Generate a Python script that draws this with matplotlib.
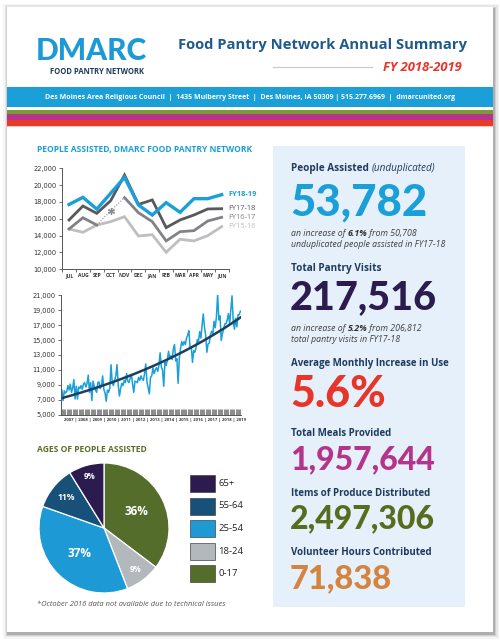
import numpy as np
import matplotlib
matplotlib.use('Agg')
import matplotlib.pyplot as plt
from matplotlib.patches import Rectangle

# ---------------- data ----------------
months = ['JUL', 'AUG', 'SEP', 'OCT', 'NOV', 'DEC', 'JAN', 'FEB', 'MAR', 'APR', 'MAY', 'JUN']
fy_labels = ['FY18-19', 'FY17-18', 'FY16-17', 'FY15-16']
fy1819 = [17700, 18550, 17150, 19030, 20930, 17640, 16450, 17920, 16770, 18390, 18390, 18870]
fy1718 = [15860, 17520, 16650, 18150, 21200, 17700, 18240, 14950, 15860, 16450, 17170, 17200]
fy1617 = [14790, 16130, 15260, np.nan, 18510, 16730, 15660, 13370, 14470, 14590, 15740, 16180]
fy1617_oct_estimate = 16970
fy1516 = [14790, 14400, 15260, 15660, 16250, 13960, 14110, 12020, 13570, 13370, 14000, 15070]

# monthly people assisted, calendar months Jan..Dec
m2007 = [8300, 6900, 8200, 7900, 8100, 8900, 8300, 9100, 8000, 8600, 9700, 7100]
m2008 = [8800, 7100, 8700, 8500, 8900, 8400, 9100, 9300, 8700, 9200, 10300, 8000]
m2009 = [9300, 6900, 9500, 8800, 8300, 8000, 9300, 9400, 8500, 8900, 10200, 8400]
m2010 = [7900, 6800, 8300, 8000, 8600, 11700, 9300, 8900, 9600, 10200, 11700, 9000]
m2011 = [7500, 8500, 9200, 8900, 9600, 9300, 10500, 9500, 9300, 9900, 10400, 9100]
m2012 = [8000, 9500, 9400, 9300, 10000, 9600, 10200, 9800, 9600, 10500, 11800, 9400]
m2013 = [8600, 7800, 10000, 10200, 11300, 10500, 11000, 11300, 10800, 11600, 13300, 11400]
m2014 = [11000, 8800, 12000, 11600, 12300, 13500, 12600, 12900, 12400, 13800, 14400, 12200]
m2015_jan_jun = [12500, 9200, 12500, 13800, 14800, 14300]
years = ['2007', '2008', '2009', '2010', '2011', '2012', '2013', '2014',
         '2015', '2016', '2017', '2018', '2019']

age_groups = ['0-17', '18-24', '25-54', '55-64', '65+']
age_pcts = [36, 9, 37, 11, 9]
age_colors = ['#556d2a', '#b3b8bd', '#1d9ad6', '#17517a', '#2b1b4f']

# ---------------- figure ----------------
W, H = 500, 640
fig = plt.figure(figsize=(W / 100, H / 100), dpi=100)
fig.patch.set_facecolor('white')
bg = fig.add_axes([0, 0, 1, 1])
bg.set_xlim(0, W)
bg.set_ylim(H, 0)
bg.axis('off')


def rect_axes(x0, y0, x1, y1):
    return fig.add_axes([x0 / W, 1 - y1 / H, (x1 - x0) / W, (y1 - y0) / H])


# page + shadow
for d, a in [(5, 0.04), (3.5, 0.06), (2, 0.10), (1, 0.15)]:
    bg.add_patch(Rectangle((7 - d + 1, 7 - d + 1.5), 486 + 2 * d, 625 + 2 * d,
                           fc='black', alpha=a, lw=0))
bg.add_patch(Rectangle((7, 7), 486, 625, fc='white', lw=0))

# logo
logo_blue = '#1d9ad6'
navy = '#1f3b5e'
bg.text(91, 60.5, 'DMARC', fontsize=21.5, family='Lato', weight='black',
        color=logo_blue, ha='center', va='baseline')
bg.text(97, 74.5, 'FOOD PANTRY NETWORK', fontsize=5.5, family='Open Sans',
        weight='bold', color=navy, ha='center', va='baseline')

# title
bg.text(178, 49.5, 'Food Pantry Network Annual Summary', fontsize=10.6,
        family='Open Sans', weight='bold', color='#1e5a8a', ha='left', va='baseline')
bg.text(462, 71, 'FY 2018-2019', fontsize=9.4, family='Open Sans', weight='bold',
        style='italic', color='#e8352a', ha='right', va='baseline')
bg.plot([273, 372], [66.5, 66.5], color='#c8c8c8', lw=0.8)

# blue band + stripes
bg.add_patch(Rectangle((7, 87.3), 486, 19.4, fc='#1a9fd9', lw=0))
bg.text(250, 97.5, 'Des Moines Area Religious Council  |  1435 Mulberry Street  |  '
        'Des Moines, IA 50309 | 515.277.6969  |  dmarcunited.org',
        fontsize=5.0, family='Open Sans', weight='bold', color='white',
        ha='center', va='center')
bg.add_patch(Rectangle((7, 109.5), 486, 4.7, fc='#7a9a33', lw=0))
bg.add_patch(Rectangle((7, 114.2), 486, 5.8, fc='#b8338d', lw=0))
bg.add_patch(Rectangle((7, 120.0), 486, 5.8, fc='#e8392b', lw=0))
bg.add_patch(Rectangle((7, 125.8), 486, 1.2, fc='#f3c9c4', lw=0))

# ---------------- left headings ----------------
bg.text(36.7, 152.3, 'PEOPLE ASSISTED, DMARC FOOD PANTRY NETWORK', fontsize=6.1,
        family='Open Sans', weight='bold', color='#1a9fd9', ha='left', va='baseline')
bg.text(36.7, 452.3, 'AGES OF PEOPLE ASSISTED', fontsize=6.1,
        family='Open Sans', weight='bold', color='#5a6e2a', ha='left', va='baseline')
bg.text(37.3, 606.5, '*October 2016 data not available due to technical issues',
        fontsize=5.4, family='Open Sans', style='italic', color='#555555',
        ha='left', va='baseline')

tick_color = '#333333'

# ---------------- chart 1 ----------------
ax1 = rect_axes(62.1, 168.3, 228.6, 269.3)
x12 = np.arange(12)
ax1.plot(x12, fy1516, color='#bcbec0', lw=2.0, solid_joinstyle='miter')
ax1.plot(x12, fy1617, color='#808285', lw=2.0, solid_joinstyle='miter')
ax1.plot([2, 3, 4], [fy1617[2], fy1617_oct_estimate, fy1617[4]], color='#8a8a8a',
         lw=0.8, ls=(0, (1, 1.5)))
ax1.plot([3], [fy1617_oct_estimate], marker=(6, 2, 0), color='#8a8a8a', ms=5, mew=0.9)
ax1.plot(x12, fy1718, color='#58595b', lw=2.0, solid_joinstyle='miter')
ax1.plot(x12, fy1819, color='#1a9fd9', lw=2.4, solid_joinstyle='miter')
ax1.set_xlim(-0.5, 11.5)
ax1.set_ylim(10000, 22000)
ax1.set_yticks(np.arange(10000, 22001, 2000))
ax1.set_yticklabels([f'{v:,}' for v in range(10000, 22001, 2000)])
ax1.set_xticks(x12)
ax1.set_xticklabels(months)
ax1.set_xticks(np.arange(-0.5, 12, 1), minor=True)
ax1.tick_params(axis='x', which='major', length=0, labelsize=3.6, pad=2.5,
                labelcolor=tick_color)
ax1.tick_params(axis='x', which='minor', length=2.5, width=0.6, color='#555')
ax1.tick_params(axis='y', length=2.5, width=0.6, color='#555', labelsize=4.8,
                pad=1.5, labelcolor=tick_color)
for lbl in ax1.get_xticklabels():
    lbl.set_fontweight('bold')
    lbl.set_family('Open Sans')
for s in ['top', 'right']:
    ax1.spines[s].set_visible(False)
for s in ['left', 'bottom']:
    ax1.spines[s].set_color('#555')
    ax1.spines[s].set_linewidth(0.7)
ax1.patch.set_alpha(0)
end_vals = [fy1819[-1], fy1718[-1], fy1617[-1], fy1516[-1]]
lab_cols = ['#1a9fd9', '#58595b', '#808285', '#bcbec0']
for lab, v, c, w in zip(fy_labels, end_vals, lab_cols, ['bold', 'normal', 'normal', 'normal']):
    ax1.text(11.45, v, lab, color=c, fontsize=5.4, fontweight=w, family='Open Sans',
             ha='left', va='center', clip_on=False)

# ---------------- chart 2 ----------------
monthly = (m2007 + m2008 + m2009 + m2010 + m2011 + m2012 + m2013 + m2014 + m2015_jan_jun
           + fy1516 + fy1617[:3] + [fy1617_oct_estimate] + fy1617[4:] + fy1718 + fy1819)
monthly = np.array(monthly, dtype=float)
xm = np.arange(len(monthly))
coef = np.polyfit(xm, np.log(monthly), 1)       # exponential trend line
trend = np.exp(np.polyval(coef, xm))

ax2 = rect_axes(61.3, 295.3, 241, 414.7)
ax2.plot(xm, monthly, color='#1a9fd9', lw=1.1)
ax2.plot(xm, trend, color='#1d3f5e', lw=1.8)
ax2.set_xlim(-0.5, len(monthly) - 0.5)
ax2.set_ylim(5000, 21000)
ax2.set_yticks(np.arange(5000, 21001, 2000))
ax2.set_yticklabels([f'{v:,}' for v in range(5000, 21001, 2000)])
ax2.tick_params(axis='y', length=2.5, width=0.6, color='#555', labelsize=4.8,
                pad=1.5, labelcolor=tick_color)
ax2.set_xticks(xm)
ax2.set_xticklabels([])
ax2.tick_params(axis='x', direction='in', length=4.5, width=0.7, color='#8a8a8a')
for s in ['top', 'right']:
    ax2.spines[s].set_visible(False)
for s in ['left', 'bottom']:
    ax2.spines[s].set_color('#555')
    ax2.spines[s].set_linewidth(0.7)
ax2.patch.set_alpha(0)
bg.text(155, 419.5, ' | '.join(years), fontsize=3.1, family='Open Sans', weight='bold',
        color=tick_color, ha='center', va='center')

# ---------------- pie ----------------
cx, cy, r = 104, 528, 65
axp = rect_axes(cx - 66, cy - 66, cx + 66, cy + 66)
wedges, _ = axp.pie(age_pcts, colors=age_colors, startangle=90, counterclock=False,
                    radius=1, wedgeprops=dict(edgecolor='white', linewidth=0.9))
axp.set_xlim(-66 / 65, 66 / 65)
axp.set_ylim(-66 / 65, 66 / 65)
axp.set_aspect('equal')
axp.axis('off')
label_r = [0.56, 0.8, 0.55, 0.74, 0.82]
label_fs = [8.5, 5.8, 8.5, 6.2, 5.8]
for w, p, lr, fs in zip(wedges, age_pcts, label_r, label_fs):
    th = np.deg2rad((w.theta1 + w.theta2) / 2)
    axp.text(lr * np.cos(th), lr * np.sin(th), f'{p}%', color='white', fontsize=fs,
             fontweight='bold', family='Open Sans', ha='center', va='center')

# legend
leg_rows = [483, 506, 528.5, 551, 573]
for (grp, col), yy in zip(list(zip(age_groups, age_colors))[::-1], leg_rows):
    bg.add_patch(Rectangle((189.5, yy - 8.5), 25.5, 17, fc=col, ec='#444444', lw=0.5))
    bg.text(218.5, yy, grp, fontsize=6.8, family='Open Sans', color='#222222',
            ha='left', va='center')

# ---------------- right panel ----------------
bg.add_patch(Rectangle((273, 146), 192, 461, fc='#e5f0fa', lw=0))
renderer = fig.canvas.get_renderer()


def rich(x, y, segments, fs):
    for txt, kw in segments:
        t = bg.text(x, y, txt, fontsize=fs, ha='left', va='baseline', **kw)
        bb = t.get_window_extent(renderer=renderer)
        x = bb.x1


head_kw = dict(family='Open Sans', weight='bold', color=navy)
sub_kw = dict(family='Open Sans', style='italic', color='#404040')
subb_kw = dict(family='Open Sans', style='italic', weight='bold', color='#303030')

rich(291, 170.7, [('People Assisted ', head_kw),
                  ('(unduplicated)', dict(family='Open Sans', style='italic', color=navy))], 7.2)
bg.text(290, 215.5, '53,782', fontsize=31.5, family='Lato', weight='black',
        color='#1a9fd9', ha='left', va='baseline')
rich(291, 236, [('an increase of ', sub_kw), ('6.1%', subb_kw), (' from 50,708', sub_kw)], 6.3)
rich(291, 247, [('unduplicated people assisted in FY17-18', sub_kw)], 6.3)

rich(291, 271, [('Total Pantry Visits', head_kw)], 7.2)
bg.text(290, 309, '217,516', fontsize=28.5, family='Lato', weight='black',
        color='#2b1b4f', ha='left', va='baseline')
rich(291, 331, [('an increase of ', sub_kw), ('5.2%', subb_kw), (' from 206,812', sub_kw)], 6.3)
rich(291, 342, [('total pantry visits in FY17-18', sub_kw)], 6.3)

rich(291, 366, [('Average Monthly Increase in Use', head_kw)], 7.0)
bg.text(290, 407, '5.6%', fontsize=31, family='Lato', weight='black',
        color='#e8352a', ha='left', va='baseline')

rich(291, 436, [('Total Meals Provided', head_kw)], 7.0)
bg.text(290, 469, '1,957,644', fontsize=23, family='Lato', weight='black',
        color='#b5338b', ha='left', va='baseline')

rich(291, 495.7, [('Items of Produce Distributed', head_kw)], 7.0)
bg.text(290, 528.5, '2,497,306', fontsize=23, family='Lato', weight='black',
        color='#566d1f', ha='left', va='baseline')

rich(291, 555, [('Volunteer Hours Contributed', head_kw)], 7.0)
bg.text(290, 588.5, '71,838', fontsize=23.5, family='Lato', weight='black',
        color='#d4843e', ha='left', va='baseline')

fig.savefig('out.png', dpi=100)
